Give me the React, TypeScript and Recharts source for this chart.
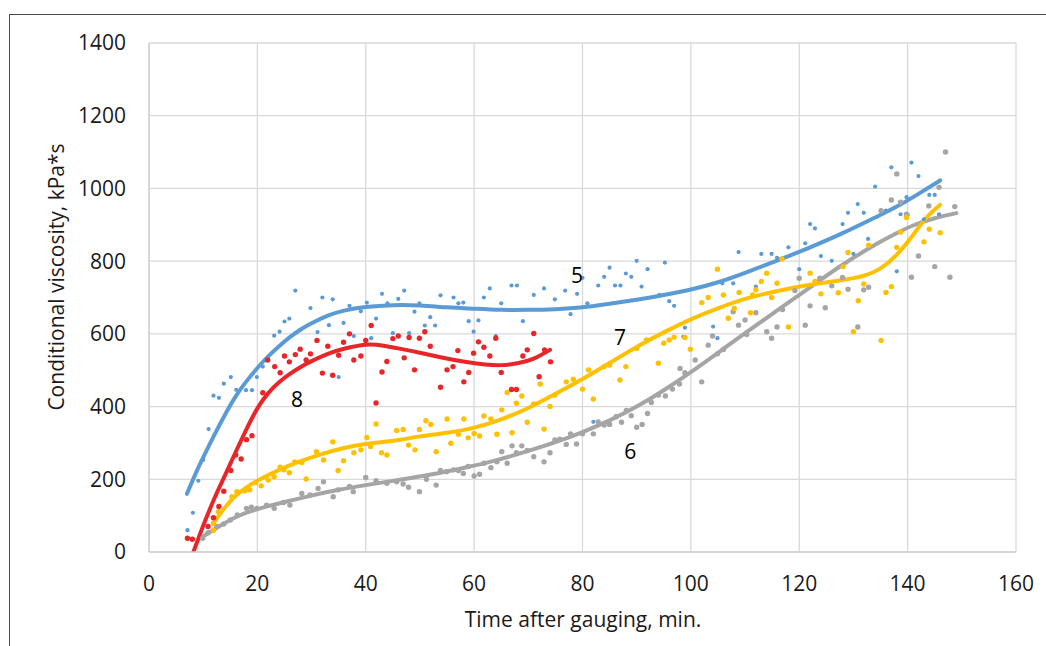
import {
  ComposedChart,
  Scatter,
  Line,
  XAxis,
  YAxis,
  CartesianGrid,
  ReferenceDot,
  Label,
} from 'recharts';

type Pt = [number, number];

const X_TICKS = [0, 20, 40, 60, 80, 100, 120, 140, 160];
const Y_TICKS = [0, 200, 400, 600, 800, 1000, 1200, 1400];

// measured points, series 5 (blue)
const points5: Pt[] = [
  [7.1, 60], [8.1, 108], [9.1, 196], [10, 253], [11, 338], [11.9, 430], [12.9, 424], [13.8, 463],
  [15.1, 481], [16.1, 446], [17.9, 445], [19, 445], [19.9, 481], [21, 510], [23.1, 595], [24.1, 606],
  [25, 634], [25.9, 642], [27, 719], [27.9, 611], [29.8, 671], [31.1, 605], [32, 700], [33.2, 624],
  [33.9, 695], [35, 481], [35.9, 630], [37, 677], [37.8, 594], [39.1, 662], [40.2, 686], [41, 588],
  [41.9, 642], [43, 710], [44, 684], [45, 602], [46, 696], [47.1, 719], [48, 602], [49, 661],
  [49.9, 684], [50.9, 623], [51.9, 646], [52.8, 623], [53.8, 706], [56.2, 700], [57.1, 684], [58, 686],
  [59, 635], [59.9, 606], [60.8, 637], [61.8, 700], [62.9, 725], [64, 594], [65, 684], [66.9, 733],
  [67.9, 733], [69, 635], [71, 707], [72.9, 725], [74.9, 695], [76.8, 719], [77.8, 654], [79, 710],
  [80, 754], [80.9, 684], [82, 358], [82.9, 733], [84, 757], [85, 782], [86, 733], [87, 733],
  [88, 766], [89, 757], [90, 801], [90.9, 730], [92, 778], [94.2, 707], [95.2, 796], [96, 690],
  [96.9, 677], [98.6, 592], [98.9, 617], [104.1, 620], [104.9, 588], [105.8, 739], [107.8, 739],
  [108.8, 825], [112, 730], [113, 820], [114.9, 820], [115.9, 809], [118, 838], [120, 778],
  [121.1, 849], [122, 902], [122.9, 890], [124, 814], [126, 801], [128, 902], [129, 933], [130, 820],
  [130.8, 957], [131.9, 933], [132.7, 861], [134, 1005], [136, 939], [137, 1058], [138, 772],
  [138.7, 929], [139.8, 976], [140, 927], [140.7, 1071], [142, 1034], [143, 915], [144, 982],
  [145, 982], [145.8, 929],
];

// series 6 (gray)
const points6: Pt[] = [
  [9.9, 38], [10.9, 53], [12.5, 70], [13.8, 77], [15, 88], [16.3, 102], [18, 120], [18.9, 123],
  [19.9, 120], [21.7, 129], [23.1, 120], [24.8, 136], [26, 129], [28.2, 161], [29.7, 157], [31.2, 175],
  [32.2, 193], [34, 152], [34.9, 171], [37, 180], [37.7, 166], [40, 205], [41.9, 196], [43.9, 189],
  [45.7, 193], [46.9, 187], [47.9, 178], [49.9, 166], [51.2, 200], [53, 184], [53.8, 224], [54.9, 221],
  [56.2, 226], [57.1, 224], [58, 216], [58.9, 235], [60, 209], [61, 214], [61.8, 244], [63.1, 232],
  [64.2, 248], [65.1, 276], [66.1, 244], [67, 292], [67.8, 273], [68.8, 292], [69.8, 279], [71, 262],
  [72.9, 248], [74, 273], [74.9, 308], [75.8, 310], [77, 296], [77.8, 325], [78.9, 297], [80, 325],
  [82, 325], [82.9, 358], [84, 349], [85, 351], [86.2, 372], [87.2, 357], [88.1, 389], [89, 375],
  [90, 343], [91, 351], [92, 381], [92.7, 411], [94, 432], [95.3, 429], [96.6, 448], [97.9, 462],
  [98, 505], [98.9, 493], [100.8, 528], [102, 468], [103.2, 569], [104, 594], [104.9, 545], [106, 557],
  [107.8, 661], [108.8, 624], [110, 638], [110.3, 598], [112, 658], [114, 606], [114.9, 588],
  [115.9, 619], [116.9, 667], [119.2, 719], [120, 753], [121.1, 624], [122, 677], [123.8, 753],
  [124.8, 672], [126, 732], [128, 755], [129, 723], [130.8, 619], [131.9, 721], [132.8, 728],
  [135.1, 939], [137, 968], [138, 1040], [138.7, 962], [139.8, 929], [140.7, 756], [142, 814],
  [143.9, 952], [145, 785], [145.8, 1003], [147, 1100], [147.8, 756], [148.7, 950],
];

// series 7 (yellow)
const points7: Pt[] = [
  [11.9, 60], [11.9, 79], [12.8, 111], [15.3, 152], [16.2, 166], [17.7, 168], [18.6, 171], [19.7, 191],
  [20.7, 182], [22, 198], [23.1, 207], [24.2, 233], [24.9, 226], [25.9, 218], [26.9, 248], [28.2, 246],
  [29, 201], [30.9, 276], [32.2, 253], [33.9, 303], [34.9, 224], [35.9, 251], [37.8, 273], [39.1, 281],
  [40.2, 315], [40.9, 290], [41.9, 352], [42.9, 273], [43.9, 267], [45.7, 334], [46.9, 337], [47.9, 294],
  [49.1, 281], [49.9, 337], [51.1, 361], [52, 351], [53, 276], [55, 366], [55.7, 299], [57.1, 324],
  [58.1, 366], [58.9, 314], [60, 326], [61, 319], [61.8, 374], [63.1, 366], [64.2, 324], [65.1, 391],
  [66.1, 439], [67, 328], [67.8, 409], [68.8, 429], [69.8, 357], [71, 407], [72.2, 462], [72.9, 338],
  [74, 400], [74.9, 432], [77, 468], [78.3, 475], [80, 448], [81.1, 501], [82, 421], [84, 510],
  [85, 514], [86.9, 473], [88, 510], [90, 560], [91.8, 583], [94, 519], [95, 574], [96, 583],
  [96.9, 591], [98.9, 590], [99.9, 558], [102, 686], [103.2, 700], [104.9, 778], [106, 707],
  [106.9, 643], [108, 670], [108.9, 714], [111, 658], [111.4, 707], [112, 721], [113, 744], [114, 767],
  [114.9, 700], [115.9, 739], [116.8, 806], [118, 619], [122, 767], [122.9, 744], [124, 710],
  [127.2, 713], [128.1, 785], [129, 824], [130, 606], [130.9, 691], [131.9, 737], [132.8, 844],
  [135.1, 582], [136, 714], [137, 730], [138, 838], [138.7, 880], [139.8, 920], [143, 853], [144, 888],
  [146, 878],
];

// series 8 (red)
const points8: Pt[] = [
  [7.1, 38], [8, 35], [10.9, 70], [11.9, 94], [12.9, 125], [13.8, 167], [15.1, 224], [16, 267],
  [17, 256], [18, 309], [19, 320], [21, 438], [21.9, 528], [23.2, 510], [24.2, 493], [25, 539],
  [25.9, 523], [27, 543], [27.9, 558], [29, 528], [29.8, 545], [31, 582], [32, 492], [33, 566],
  [33.9, 486], [35, 541], [35.9, 577], [37, 600], [37.8, 528], [39.1, 539], [40, 582], [41, 623],
  [41.9, 410], [43, 495], [43.9, 524], [45, 587], [46, 594], [47.1, 534], [48, 590], [49, 501],
  [49.9, 588], [50.9, 606], [51.9, 566], [53.8, 453], [55, 501], [56.1, 510], [57, 554], [58.1, 468],
  [59, 494], [59.9, 547], [60.8, 578], [61.8, 563], [62.9, 539], [64, 588], [65, 494], [66.9, 447],
  [67.8, 447], [69, 539], [69.8, 556], [71, 601], [72, 482], [73, 556], [74.1, 523],
];

// trend lines
const trend5: Pt[] = [
  [7, 160], [8.5, 212], [10, 260], [12, 320], [14, 377], [16, 428], [18, 470], [20, 506], [22, 538],
  [24, 566], [26, 591], [28, 612], [30, 629], [33, 650], [36, 664], [40, 674], [45, 679], [50, 678],
  [55, 673], [60, 669], [65, 666], [70, 666], [75, 668], [80, 673], [85, 683], [90, 694], [95, 707],
  [100, 722], [105, 742], [110, 768], [116, 802], [122, 838], [128, 877], [134, 920], [138, 950],
  [142, 985], [146, 1022],
];
const trend6: Pt[] = [
  [9.5, 38], [12, 62], [15, 88], [18, 108], [22, 126], [26, 141], [30, 155], [35, 171], [40, 184],
  [46, 198], [52, 213], [58, 231], [64, 252], [70, 278], [75, 302], [80, 330], [85, 362], [90, 400],
  [95, 445], [100, 495], [105, 548], [110, 602], [116, 665], [122, 728], [128, 790], [134, 845],
  [138, 877], [141, 898], [145, 918], [149, 932],
];
const trend7: Pt[] = [
  [11.9, 79], [14, 122], [16, 155], [18, 178], [20, 196], [24, 226], [28, 250], [32, 270], [36, 286],
  [40, 297], [46, 308], [50, 318], [55, 328], [60, 342], [65, 365], [70, 396], [75, 435], [80, 476],
  [85, 520], [90, 564], [95, 604], [100, 640], [105, 670], [110, 696], [116, 718], [122, 735],
  [128, 748], [132, 760], [135, 780], [138, 818], [141, 872], [143.5, 920], [146, 955],
];
const trend8: Pt[] = [
  [8.2, 0], [10, 72], [12, 145], [14, 210], [16, 275], [18, 338], [20, 395], [22, 437], [24, 467],
  [26, 490], [28, 509], [30, 525], [33, 545], [36, 559], [40, 570], [43, 568], [46, 560], [50, 548],
  [54, 535], [58, 524], [62, 516], [65, 514], [68, 519], [71, 532], [74, 556],
];

// curve numbers written on the plot
const curveLabels: { text: string; at: Pt }[] = [
  { text: '5', at: [79, 760] },
  { text: '7', at: [86.9, 589] },
  { text: '6', at: [88.8, 275] },
  { text: '8', at: [27.3, 418] },
];

const toXY = (pts: Pt[]) => pts.map(([x, y]) => ({ x, y }));

const SERIES = [
  { name: '5', color: '#5b9bd5', r: 2.1, points: points5, trend: trend5 },
  { name: '6', color: '#a5a5a5', r: 2.7, points: points6, trend: trend6 },
  { name: '7', color: '#ffc000', r: 2.7, points: points7, trend: trend7 },
  { name: '8', color: '#e8262a', r: 2.7, points: points8, trend: trend8 },
];

const FONT = '"Open Sans", sans-serif';

function dot(color: string, r: number) {
  return (props: any) => <circle cx={props.cx} cy={props.cy} r={r} fill={color} />;
}

export default function App() {
  return (
    <div
      style={{
        position: 'absolute',
        left: 0,
        top: 0,
        width: 1046,
        height: 646,
        overflow: 'hidden',
        background: '#fff',
        fontFamily: FONT,
      }}
    >
      {/* frame of the figure, cut off at right and bottom */}
      <div
        style={{
          position: 'absolute',
          left: 9,
          top: 14,
          width: 1100,
          height: 700,
          border: '1.5px solid #4a4a4a',
        }}
      />
      <div style={{ position: 'absolute', left: 0, top: 0 }}>
        <ComposedChart width={1046} height={646} margin={{ top: 43, right: 30, bottom: 44, left: 20 }}>
          <CartesianGrid stroke="#d9d9d9" strokeWidth={1.3} verticalValues={X_TICKS} horizontalValues={Y_TICKS} />
          <XAxis
            type="number"
            dataKey="x"
            domain={[0, 160]}
            ticks={X_TICKS}
            height={50}
            tickLine={false}
            tickMargin={18}
            axisLine={{ stroke: '#d0d0d0', strokeWidth: 1.3 }}
            tick={{ fontSize: 21, fill: '#1a1a1a', fontFamily: FONT }}
            allowDataOverflow
          >
            <Label
              content={() => (
                <text x={583} y={627} textAnchor="middle" fontSize={21} fill="#1a1a1a" fontFamily={FONT}>
                  Time after gauging, min.
                </text>
              )}
            />
          </XAxis>
          <YAxis
            type="number"
            dataKey="y"
            domain={[0, 1400]}
            ticks={Y_TICKS}
            width={129}
            tickLine={false}
            tickMargin={17}
            axisLine={{ stroke: '#d0d0d0', strokeWidth: 1.3 }}
            tick={{ fontSize: 21, fill: '#1a1a1a', fontFamily: FONT }}
            allowDataOverflow
          >
            <Label
              content={() => (
                <text
                  transform="translate(64,277) rotate(-90)"
                  textAnchor="middle"
                  fontSize={21}
                  fill="#1a1a1a"
                  fontFamily={FONT}
                >
                  Conditional viscosity, kPa*s
                </text>
              )}
            />
          </YAxis>

          {SERIES.map((s) => (
            <Scatter
              key={`pts-${s.name}`}
              name={`pts-${s.name}`}
              data={toXY(s.points)}
              shape={dot(s.color, s.r)}
              isAnimationActive={false}
            />
          ))}
          {SERIES.map((s) => (
            <Line
              key={`trend-${s.name}`}
              name={`trend-${s.name}`}
              data={toXY(s.trend)}
              dataKey="y"
              type="natural"
              stroke={s.color}
              strokeWidth={4}
              dot={false}
              activeDot={false}
              strokeLinecap="round"
              isAnimationActive={false}
            />
          ))}

          {curveLabels.map((c) => (
            <ReferenceDot
              key={c.text}
              x={c.at[0]}
              y={c.at[1]}
              r={1}
              fill="none"
              stroke="none"
              label={{ value: c.text, position: 'center', fontSize: 21, fill: '#000', fontFamily: FONT }}
            />
          ))}
        </ComposedChart>
      </div>
    </div>
  );
}
